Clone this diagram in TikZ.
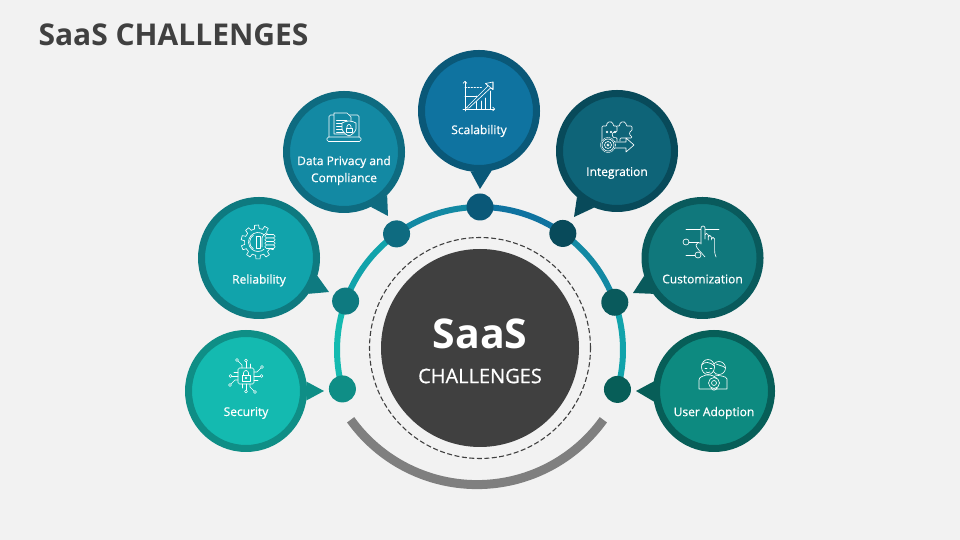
\documentclass[tikz,border=0pt]{standalone}
\usepackage{fontspec}
\usetikzlibrary{calc, arrows.meta}
\setmainfont{Open Sans}
\newfontfamily\labelfont[FakeBold=0.7]{Open Sans}
\definecolor{pagebg}{HTML}{F2F2F2}
\definecolor{darkhub}{HTML}{404040}
\definecolor{arcgray}{HTML}{7F7F7F}
\definecolor{secrim}{HTML}{0F8E86}
\definecolor{seccore}{HTML}{14BAB0}
\definecolor{relrim}{HTML}{0E7A80}
\definecolor{relcore}{HTML}{11A3AB}
\definecolor{datrim}{HTML}{0E6B80}
\definecolor{datcore}{HTML}{1389A3}
\definecolor{scarim}{HTML}{0A5878}
\definecolor{scacore}{HTML}{0F73A0}
\definecolor{intrim}{HTML}{084A5A}
\definecolor{intcore}{HTML}{0E6478}
\definecolor{cusrim}{HTML}{095A5C}
\definecolor{cuscore}{HTML}{10787C}
\definecolor{usrrim}{HTML}{075E58}
\definecolor{usrcore}{HTML}{0D8A80}
\tikzset{
	bubble/.style={circle, inner sep=0pt, minimum size=115pt, line width=7pt},
	ringdot/.style={circle, inner sep=0pt, minimum size=27pt},
	bubbletext/.style={text=white, align=center, font=\labelfont\fontsize{12}{17}\selectfont},
	icon/.style={draw=white, line width=0.65pt, line join=round, line cap=round},
}
\begin{document}
\begin{tikzpicture}[x=1pt, y=1pt]
	\useasboundingbox (0, 0) rectangle (960, 540);
	\fill[pagebg] (0, 0) rectangle (960, 540);
	\node[anchor=west, text=darkhub, font=\bfseries\fontsize{30}{32}\selectfont] (title) at (35, 505) {SaaS CHALLENGES};

	\coordinate (ringc) at (480, 190);
	\foreach \nm/\ang in {sec/195.8, rel/160, dat/125.7, sca/90, int/54.6, cus/19.5, usr/-16} {
		\coordinate (\nm p) at ($(ringc) + (\ang:143)$);
	}
	\foreach \from/\a/\b/\col in {sec/195.8/160/seccore, rel/160/125.7/relcore, dat/125.7/90/datcore, sca/90/54.6/scacore, int/54.6/19.5/datcore, cus/19.5/-16/relcore} {
		\draw[line width=6pt, \col] (\from p) arc[start angle=\a, end angle=\b, radius=143];
	}
	\foreach \nm/\rim in {sec/secrim, rel/relrim, dat/datrim, sca/scarim, int/intrim, cus/cusrim, usr/usrrim} {
		\node[ringdot, fill=\rim] (\nm dot) at (\nm p) {};
	}

	\node[circle, inner sep=0pt, minimum size=198pt, fill=darkhub] (hub) at (480, 192) {};
	\node[circle, inner sep=0pt, minimum size=221pt, draw=darkhub, line width=1.1pt, dash pattern=on 5pt off 2.5pt] (hubdash) at (480, 192) {};
	\node[text=white, font=\bfseries\fontsize{41}{44}\selectfont] (saas) at (480, 206) {SaaS};
	\node[text=white, font=\labelfont\fontsize{20}{22}\selectfont] (chal) at (480, 164) {CHALLENGES};
	\draw[line width=9pt, arcgray] (477, 211) ++(215.7:155.6) arc[start angle=215.7, end angle=324.3, radius=155.6];

	\foreach \nm/\x/\y/\rim/\core/\tx/\ty/\ba/\bb in {
		sec/246/149/secrim/seccore/324/149/9.5/-9.3,
		rel/259/282/relrim/relcore/329/248/-17/-36,
		dat/344/388/datrim/datcore/388/324/-45.6/-64,
		sca/479/429/scarim/scacore/480/351/-98.4/-78.9,
		int/617/389/intrim/intcore/574/323/-131.7/-112.8,
		cus/702.5/282/cusrim/cuscore/633/247/-163/-144,
		usr/714/149/usrrim/usrcore/636/149/171.5/190.5} {
		\node[bubble, draw=\rim, fill=\core] (\nm) at (\x, \y) {};
		\coordinate (\nm tip) at (\tx, \ty);
		\fill[\rim] (\nm.\ba) -- (\nm tip) -- (\nm.\bb) -- cycle;
	}

	\node[bubbletext] (seclabel) at (246, 127) {Security};
	\node[bubbletext] (rellabel) at (259, 259.5) {Reliability};
	\node[bubbletext] (datlabel) at (344, 369.5) {Data Privacy and\\Compliance};
	\node[bubbletext] (scalabel) at (479, 409) {Scalability};
	\node[bubbletext] (intlabel) at (617, 367) {Integration};
	\node[bubbletext] (cuslabel) at (702.5, 261) {Customization};
	\node[bubbletext] (usrlabel) at (714, 127) {User Adoption};

	\begin{scope}[shift={(246, 164)}, icon]
		\draw[rounded corners=1.5] (-8, -8) rectangle (8, 8);
		\draw (-4, -5) rectangle (4, 1);
		\draw (-2.5, 1) -- (-2.5, 3) arc (180:0:2.5) -- (2.5, 1);
		\draw (0, -2) circle (1);
		\foreach \r in {0, 90, 180, 270} {
			\begin{scope}[rotate=\r]
				\draw (8, 0) -- (14, 0);
				\draw (15.5, 0) circle (1.5);
				\draw (8, 4) -- (11, 4) -- (15, 8);
				\draw (16, 9) circle (1.5);
				\draw (8, -4) -- (12, -4);
			\end{scope}
		}
	\end{scope}

	\begin{scope}[shift={(258, 298)}, icon]
		\foreach \a in {60, 95, ..., 340} {
			\draw (\a-10:13.5) -- (\a-7:17) arc (\a-7:\a+7:17) -- (\a+10:13.5);
			\draw (\a+10:13.5) arc (\a+10:\a+25:13.5);
		}
		\draw (50:9.5) arc (50:310:9.5);
		\draw (-2, -6) rectangle (2, 6);
		\draw (-4.5, -7) arc (237:123:8.3);
		\draw[rounded corners=1] (4, -5) -- (4, 5) -- (9, 10) -- (9, 4);
		\foreach \y in {4, 0.5, -3, -6.5} {
			\draw[rounded corners=1.5, fill=relcore] (7, \y) rectangle (17, \y+3.5);
		}
	\end{scope}

	\begin{scope}[shift={(344, 412)}, icon]
		\draw[rounded corners=1.5] (-15, -9) -- (-15, 13) -- (15, 13) -- (15, -9);
		\draw[rounded corners=1.5] (-17, -13.5) rectangle (17, -9);
		\draw[fill=datcore] (-10, -6) -- (-10, 15) -- (3, 15) -- (7, 11) -- (7, -6) -- cycle;
		\foreach \y in {8, 5, 2, -1, -4} {
			\draw (-7.5, \y) -- (3, \y);
		}
		\draw[fill=datcore] (5, 7) .. controls (8, 7) and (10, 6) .. (12, 5) -- (12, -1) .. controls (11, -5) and (7, -7) .. (5, -8) .. controls (3, -7) and (-1, -5) .. (-2, -1) -- (-2, 5) .. controls (0, 6) and (2, 7) .. (5, 7);
		\draw (2, -4) rectangle (8, 0);
		\draw (3, 0) -- (3, 1.5) arc (180:0:2) -- (7, 0);
	\end{scope}

	\begin{scope}[shift={(479, 444)}, icon]
		\draw[-{Straight Barb[length=2pt]}] (-14, -15) -- (-14, 15);
		\draw[-{Straight Barb[length=2pt]}] (-16, -13) -- (16, -13);
		\draw[dash pattern=on 1.5pt off 1.5pt] (-14, 9) -- (3, 9);
		\draw (-14, 0) -- (-2, 0);
		\draw (-3, -13) -- (-3, 0);
		\draw (2, -13) -- (2, -5);
		\draw (6, -13) -- (6, -2);
		\draw (11, -13) -- (11, 5);
		\draw[fill=scacore] (-13, -12) -- (9, 10) -- (6.5, 12.5) -- (14, 14) -- (14, 6.5) -- (11.5, 8) -- (-10, -12) -- cycle;
		\draw (14, 14) -- (14, 6.5) -- (6.5, 12.5);
	\end{scope}

	\begin{scope}[shift={(617, 404)}, icon]
		\draw[rounded corners=1] (-15, -5) -- (-15, 10) -- (-10, 10) arc (200:-20:3.2) -- (0, 10) -- (0, 4) -- (-2, 4) arc (90:270:2.8) -- (0, -1.6) -- (0, -5);
		\draw[rounded corners=1] (0, 10) -- (3, 10) arc (200:-20:3.2) -- (15, 10) -- (15, 5) arc (90:270:2.5) -- (15, -2) -- (3, -2) -- (3, -5);
		\foreach \x in {-10, -6, -2} {
			\draw (\x, 4) circle (1);
		}
		\draw[fill=intcore] (-3, -6) -- (9, -6) -- (9, -2) -- (17, -9) -- (9, -16) -- (9, -12) -- (-3, -12) -- cycle;
		\draw[fill=intcore, densely dotted] (-9, -9) circle (7.5);
		\draw (-9, -9) circle (6);
		\draw (-9, -9) circle (3.5);
		\draw (-9, -9) circle (1.2);
	\end{scope}

	\begin{scope}[shift={(702, 297)}, icon]
		\draw (-16, 14) -- (17, 14);
		\draw (-16, 1) ++(3, 0) arc (0:360:3);
		\draw (-13, 1) -- (-3, 1);
		\draw (-16, -12) -- (-7, -12);
		\draw (-4, -12) circle (3);
		\draw[fill=cuscore] (-1, -1) -- (-1, 15) arc (180:0:2) -- (3, 4) -- (3, 8) arc (180:0:1.6) -- (6.2, 3) -- (6.2, 6) arc (180:0:1.6) -- (9.4, 3) -- (9.4, 4) arc (180:0:1.6) -- (12.6, -6) .. controls (12.6, -10) and (13, -12) .. (14, -14);
		\draw (-1, 0) .. controls (-3, 1) and (-6, 0) .. (-6, -2) .. controls (-6, -5) and (-1, -9) .. (3, -14);
	\end{scope}

	\begin{scope}[shift={(713, 165)}, icon]
		\draw[fill=usrcore] (6, 7) circle (6.5);
		\draw (3, 11) .. controls (6, 9) and (9, 10) .. (12.5, 7);
		\draw (2, 0) .. controls (8, -1) and (13, -1) .. (14, -4) -- (14, -14) -- (2, -14);
		\draw[fill=usrcore] (-5, 8) ellipse (6.5 and 7.5);
		\draw (-11.5, 10) .. controls (-8, 14) and (-3, 13) .. (1.5, 9);
		\draw (-8, 7) -- (-6, 7);
		\draw (-3, 7) -- (-1, 7);
		\draw (-7, 3) .. controls (-6, 2) and (-4, 2) .. (-3, 3);
		\draw[fill=usrcore] (-14, -14) -- (-14, -5) .. controls (-14, -2) and (-10, -1) .. (-7, 0) -- (-3, 0) .. controls (1, -1) and (4, -2) .. (4, -5) -- (4, -14) -- cycle;
		\draw[fill=usrcore] (1, -8) circle (5.5);
		\draw (1, -8) circle (2.5);
		\draw (-2, -13) -- (0, -15) -- (2, -15) -- (4, -13);
	\end{scope}
\end{tikzpicture}
\end{document}
